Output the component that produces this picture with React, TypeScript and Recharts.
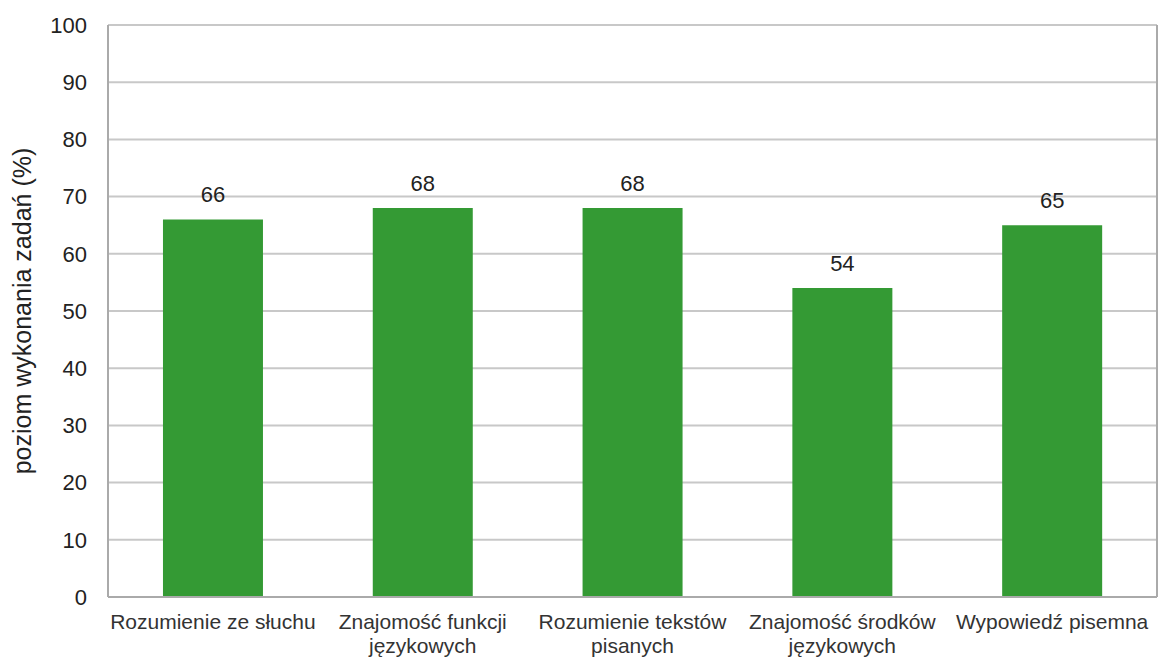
import { BarChart, Bar, XAxis, YAxis, CartesianGrid, LabelList } from "recharts";

const categories = [
  "Rozumienie ze słuchu",
  "Znajomość funkcji\njęzykowych",
  "Rozumienie tekstów\npisanych",
  "Znajomość środków\njęzykowych",
  "Wypowiedź pisemna",
];
const values = [66, 68, 68, 54, 65];
const yTicks = [0, 10, 20, 30, 40, 50, 60, 70, 80, 90, 100];

const data = categories.map((name, i) => ({ name, value: values[i] }));

const FONT = "'Liberation Sans', Arial, sans-serif";

function CatTick(props: any) {
  const { x, y, payload } = props;
  const lines = String(payload.value).split("\n");
  return (
    <g transform={`translate(${x},${y})`}>
      {lines.map((l, i) => (
        <text
          key={i}
          x={0}
          y={24 + i * 24}
          textAnchor="middle"
          fontSize={21}
          fill="#333"
          fontFamily={FONT}
        >
          {l}
        </text>
      ))}
    </g>
  );
}

export default function App() {
  return (
    <div style={{ position: "absolute", left: 0, top: 0, background: "#fff" }}>
      <BarChart
        width={1159}
        height={661}
        data={data}
        margin={{ top: 25, right: 1, bottom: 0, left: 0 }}
        barCategoryGap="26.2%"
        style={{ fontFamily: FONT }}
      >
        <CartesianGrid vertical={false} stroke="#c8c8c8" strokeWidth={2} />
        <XAxis
          dataKey="name"
          height={64}
          interval={0}
          tickLine={false}
          axisLine={{ stroke: "#aaa", strokeWidth: 2 }}
          tick={<CatTick />}
        />
        <YAxis
          domain={[0, 100]}
          ticks={yTicks}
          width={108}
          tickLine={false}
          axisLine={{ stroke: "#aaa", strokeWidth: 2 }}
          tickMargin={15}
          tick={{ fontSize: 22, fill: "#222", fontFamily: FONT }}
          label={{
            value: "poziom wykonania zadań (%)",
            angle: -90,
            position: "insideLeft",
            offset: 22,
            style: { textAnchor: "middle", fontSize: 25, fill: "#222", fontFamily: FONT },
          }}
        />
        <YAxis
          yAxisId="r"
          orientation="right"
          width={1}
          tick={false}
          tickLine={false}
          axisLine={{ stroke: "#aaa", strokeWidth: 2 }}
        />
        <Bar dataKey="value" fill="#349a34" isAnimationActive={false}>
          <LabelList
            dataKey="value"
            position="top"
            offset={17}
            fontSize={22}
            fill="#222"
            fontFamily={FONT}
          />
        </Bar>
      </BarChart>
    </div>
  );
}
